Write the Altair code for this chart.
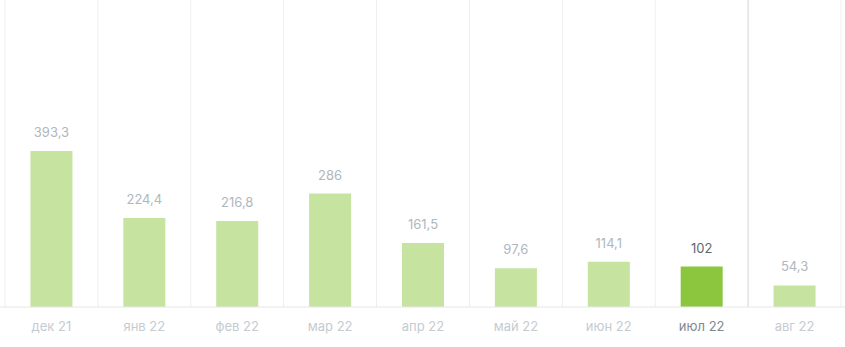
import altair as alt
import pandas as pd

months = ["дек 21", "янв 22", "фев 22", "мар 22", "апр 22", "май 22", "июн 22", "июл 22", "авг 22"]
values = [393.3, 224.4, 216.8, 286, 161.5, 97.6, 114.1, 102, 54.3]
highlight = [0, 0, 0, 0, 0, 0, 0, 1, 0]

def fmt(v):
    s = ("%.1f" % v).rstrip("0").rstrip(".")
    return s.replace(".", ",")

df = pd.DataFrame({
    "m": months,
    "v": values,
    "h": highlight,
    "lbl": [fmt(v) for v in values],
})

W, H = 836, 307
xscale = alt.Scale(domain=months, paddingInner=0, paddingOuter=0)
yscale = alt.Scale(domain=[0, 774], nice=False, zero=True)

xaxis = alt.Axis(title=None, domain=False, ticks=False, grid=False,
                 labelAngle=0, labelFont="Inter", labelFontSize=13,
                 labelPadding=13, bandPosition=0.5,
                 labelColor=alt.expr("datum.value == 'июл 22' ? '#7f8891' : '#c5cbd1'"))

base = alt.Chart(df)

bars = base.mark_bar(width=42).encode(
    x=alt.X("m:N", scale=xscale, sort=months, axis=xaxis),
    y=alt.Y("v:Q", scale=yscale, axis=None),
    color=alt.Color("h:N", scale=alt.Scale(domain=[0, 1], range=["#c6e3a0", "#8cc63f"]), legend=None),
)

grid = base.mark_rule(color="#efefef", strokeWidth=1).encode(
    x=alt.X("m:N", scale=xscale, bandPosition=0, sort=months, axis=xaxis),
    y=alt.value(0),
    y2=alt.value(H),
)
grid_dark = alt.Chart(pd.DataFrame({"m": ["авг 22"]})).mark_rule(color="#dcdcdc", strokeWidth=1).encode(
    x=alt.X("m:N", scale=xscale, bandPosition=0, sort=months, axis=xaxis),
    y=alt.value(0),
    y2=alt.value(H),
)
grid_end = alt.Chart(pd.DataFrame({"m": ["авг 22"]})).mark_rule(color="#efefef", strokeWidth=1).encode(
    x=alt.X("m:N", scale=xscale, bandPosition=1, sort=months, axis=xaxis),
    y=alt.value(0),
    y2=alt.value(H),
)
baseline = alt.Chart(pd.DataFrame({"m": ["дек 21"]})).mark_rule(color="#e6e6e6", strokeWidth=1).encode(
    x=alt.value(-5),
    x2=alt.value(W + 4),
    y=alt.value(H),
)

labels = base.mark_text(dy=-18, font="Inter", fontSize=13).encode(
    x=alt.X("m:N", scale=xscale, sort=months, axis=xaxis),
    y=alt.Y("v:Q", scale=yscale, axis=None),
    text="lbl:N",
    color=alt.Color("h:N", scale=alt.Scale(domain=[0, 1], range=["#b0b7bd", "#5e6871"]), legend=None),
)

chart = alt.layer(bars, grid, grid_dark, grid_end, baseline, labels).properties(
    width=W, height=H,
    autosize=alt.AutoSizeParams(type="none"),
    padding={"left": 5, "top": 0, "right": 4, "bottom": 40},
).configure_view(stroke=None).resolve_scale(color="independent")

chart.save("out.html", embed_options={"renderer": "svg", "actions": False})
